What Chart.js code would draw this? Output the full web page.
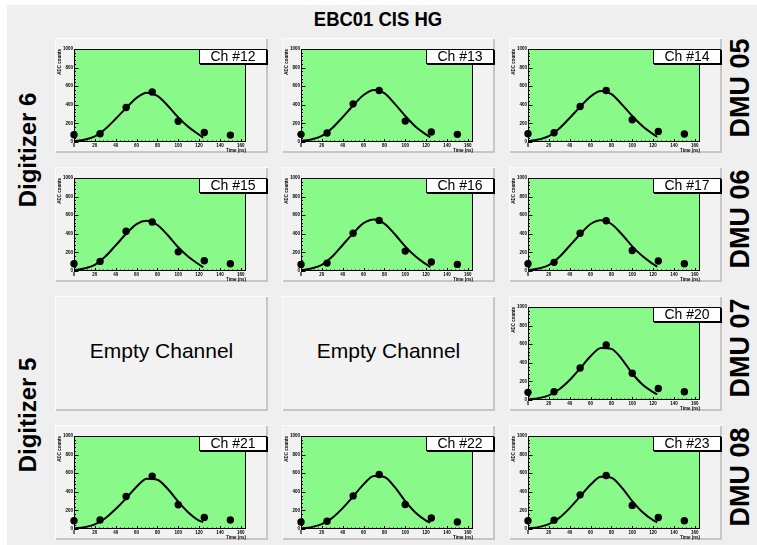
<!DOCTYPE html>
<html>
<head>
<meta charset="utf-8">
<script src="https://cdn.jsdelivr.net/npm/chart.js@4.4.0/dist/chart.umd.min.js"></script>
<style>
  html, body { margin: 0; padding: 0; background: #fff; }
  body { width: 757px; height: 545px; position: relative; overflow: hidden; font-family: "Liberation Sans", Arial, sans-serif; }
  #page { position: absolute; left: 7px; top: 5px; width: 750px; height: 540px; background: #efefef; }
  .pad { position: absolute; width: 213px; height: 115px; background: #f2f2f2;
         box-shadow: inset 1px 1px 0 #fbfbfb, inset -2px -2px 0 #c6c6c6; }
  .pad canvas { position: absolute; left: 0; top: 0; }
  .chbox { position: absolute; left: 144px; top: 11px; width: 66px; height: 13px; background: #fff;
           border: 1px solid #000; box-shadow: 1px 1px 0 #000; font-size: 14px; line-height: 13px; text-align: center; }
  .empty { position: absolute; left: 0; top: -3px; width: 213px; height: 115px; display: flex; align-items: center;
           justify-content: center; font-size: 21px; color: #000; }
  .lbl { position: absolute; font-weight: bold; color: #000; white-space: nowrap; transform: translate(-50%, -50%) rotate(-90deg); }
  #title { position: absolute; left: 378px; top: 19px; transform: translate(-50%, -50%) scaleX(0.88); font-weight: bold; font-size: 21px; white-space: nowrap; }
</style>
</head>
<body>
<div id="page"></div>
<div id="title">EBC01 CIS HG</div>
<div class="lbl" style="left:28px; top:150px; font-size:24px;">Digitizer 6</div>
<div class="lbl" style="left:28px; top:415px; font-size:24px;">Digitizer 5</div>
<div class="lbl" style="left:740px; top:88px; font-size:27px;">DMU 05</div>
<div class="lbl" style="left:740px; top:219px; font-size:27px;">DMU 06</div>
<div class="lbl" style="left:740px; top:348px; font-size:27px;">DMU 07</div>
<div class="lbl" style="left:740px; top:477px; font-size:27px;">DMU 08</div>
<div id="grid"></div>
<script>
// sample times (ns) and fit curve times
const sampleTimes = [0, 25, 50, 75, 100, 125, 150];
const fitTimes = [0, 10, 20, 30, 40, 50, 60, 70, 80, 90, 100, 110, 120, 124];
const xTickValues = [0, 20, 40, 60, 80, 100, 120, 140, 160];
const yTickValues = [0, 200, 400, 600, 800, 1000];

const ch12Samples = [78, 88, 371, 537, 223, 102, 74];
const ch12Fit = [10, 25, 60, 140, 250, 365, 475, 530, 495, 390, 265, 160, 78, 46];
const ch13Samples = [82, 96, 410, 553, 225, 107, 82];
const ch13Fit = [10, 27, 65, 150, 268, 392, 505, 560, 525, 410, 280, 165, 80, 50];
const ch14Samples = [89, 100, 382, 553, 239, 114, 86];
const ch14Fit = [10, 26, 62, 145, 258, 378, 490, 548, 515, 405, 280, 170, 85, 55];
const ch15Samples = [78, 103, 427, 527, 206, 110, 78];
const ch15Fit = [10, 27, 66, 155, 275, 400, 505, 540, 495, 385, 255, 150, 70, 40];
const ch16Samples = [71, 85, 406, 544, 214, 96, 71];
const ch16Fit = [10, 27, 66, 155, 280, 405, 515, 555, 510, 395, 265, 155, 72, 42];
const ch17Samples = [78, 93, 406, 541, 221, 107, 78];
const ch17Fit = [10, 26, 64, 150, 272, 395, 505, 545, 505, 395, 265, 158, 75, 45];
const ch20Samples = [82, 89, 344, 592, 287, 124, 89];
const ch20Fit = [8, 20, 50, 115, 215, 340, 470, 560, 550, 440, 285, 165, 85, 62];
const ch21Samples = [89, 96, 349, 569, 260, 125, 96];
const ch21Fit = [8, 20, 50, 115, 215, 330, 455, 540, 530, 430, 295, 175, 90, 75];
const ch22Samples = [76, 83, 356, 586, 263, 119, 76];
const ch22Fit = [8, 20, 52, 120, 225, 350, 480, 570, 560, 450, 300, 175, 90, 68];
const ch23Samples = [88, 95, 367, 576, 254, 124, 88];
const ch23Fit = [8, 20, 52, 120, 225, 350, 475, 562, 552, 445, 300, 180, 95, 72];

// pads row by row, null = empty channel
const pads = [
  ['Ch #12', ch12Samples, ch12Fit], ['Ch #13', ch13Samples, ch13Fit], ['Ch #14', ch14Samples, ch14Fit],
  ['Ch #15', ch15Samples, ch15Fit], ['Ch #16', ch16Samples, ch16Fit], ['Ch #17', ch17Samples, ch17Fit],
  null, null, ['Ch #20', ch20Samples, ch20Fit],
  ['Ch #21', ch21Samples, ch21Fit], ['Ch #22', ch22Samples, ch22Fit], ['Ch #23', ch23Samples, ch23Fit]
];

const PAD_W = 213, PAD_H = 115;

// green frame + ROOT style inner ticks
const rootFrame = {
  id: 'rootFrame',
  beforeDatasetsDraw(chart) {
    const { ctx, chartArea: a } = chart;
    ctx.save();
    ctx.fillStyle = '#89f98a';
    ctx.fillRect(a.left, a.top, a.right - a.left, a.bottom - a.top);
    ctx.restore();
  },
  afterDatasetsDraw(chart) {
    const { ctx, chartArea: a, scales } = chart;
    ctx.save();
    ctx.strokeStyle = '#000';
    ctx.lineWidth = 1;
    ctx.strokeRect(a.left + 0.5, a.top + 0.5, a.right - a.left - 1, a.bottom - a.top - 1);
    ctx.beginPath();
    for (let v = 0; v <= 164; v += 4) {
      const x = Math.round(scales.x.getPixelForValue(v)) + 0.5;
      const len = v % 20 === 0 ? 3 : 1.5;
      ctx.moveTo(x, a.bottom); ctx.lineTo(x, a.bottom - len);
    }
    for (let v = 0; v <= 1000; v += 40) {
      const y = Math.round(scales.y.getPixelForValue(v)) + 0.5;
      const len = v % 200 === 0 ? 4.5 : 2;
      ctx.moveTo(a.left, y); ctx.lineTo(a.left + len, y);
    }
    ctx.stroke();
    ctx.restore();
  }
};

function makeChart(canvas, samples, fit) {
  const tickFont = { family: 'Liberation Sans', size: 4.5, weight: 'bold' };
  const titleFont = { family: 'Liberation Sans', size: 4.5, weight: 'bold' };
  return new Chart(canvas, {
    type: 'scatter',
    data: {
      datasets: [
        {
          type: 'line',
          data: fitTimes.map((t, i) => ({ x: t, y: fit[i] })),
          borderColor: '#000', borderWidth: 2, pointRadius: 0, fill: false,
          cubicInterpolationMode: 'monotone', order: 2
        },
        {
          data: sampleTimes.map((t, i) => ({ x: t, y: samples[i] })),
          backgroundColor: '#000', borderColor: '#000', pointRadius: 3.7, borderWidth: 0,
          clip: false, order: 1
        }
      ]
    },
    options: {
      responsive: false, animation: false, devicePixelRatio: 1,
      layout: { padding: { left: 0, top: 11, right: 22, bottom: 0 } },
      plugins: { legend: { display: false }, tooltip: { enabled: false } },
      scales: {
        x: {
          type: 'linear', min: 0, max: 165,
          afterBuildTicks: s => { s.ticks = xTickValues.map(v => ({ value: v })); },
          afterFit: s => { s.height = 11; },
          grid: { display: false, drawTicks: false }, border: { display: false },
          ticks: { font: tickFont, color: '#000', padding: 1, maxRotation: 0, autoSkip: false,
                   callback: v => String(v) },
          title: { display: true, text: 'Time (ns)', align: 'end', color: '#000', font: titleFont, padding: 0 }
        },
        y: {
          type: 'linear', min: 0, max: 1000,
          afterBuildTicks: s => { s.ticks = yTickValues.map(v => ({ value: v })); },
          afterFit: s => { s.width = 19; },
          grid: { display: false, drawTicks: false }, border: { display: false },
          ticks: { font: tickFont, color: '#000', padding: 1, autoSkip: false, callback: v => String(v) },
          title: { display: true, text: 'ADC counts', align: 'end', color: '#000', font: titleFont,
                   padding: { top: 2, bottom: 0 } }
        }
      }
    },
    plugins: [rootFrame]
  });
}

const grid = document.getElementById('grid');
pads.forEach((p, i) => {
  const row = Math.floor(i / 3), col = i % 3;
  const pad = document.createElement('div');
  pad.className = 'pad';
  pad.style.left = (55 + col * 227) + 'px';
  pad.style.top = (38 + row * 129) + 'px';
  grid.appendChild(pad);
  if (!p) {
    const e = document.createElement('div');
    e.className = 'empty';
    e.textContent = 'Empty Channel';
    pad.appendChild(e);
    return;
  }
  const c = document.createElement('canvas');
  c.width = PAD_W; c.height = PAD_H;
  c.style.width = PAD_W + 'px'; c.style.height = PAD_H + 'px';
  pad.appendChild(c);
  makeChart(c, p[1], p[2]);
  const box = document.createElement('div');
  box.className = 'chbox';
  box.textContent = p[0];
  pad.appendChild(box);
});
</script>
</body>
</html>
